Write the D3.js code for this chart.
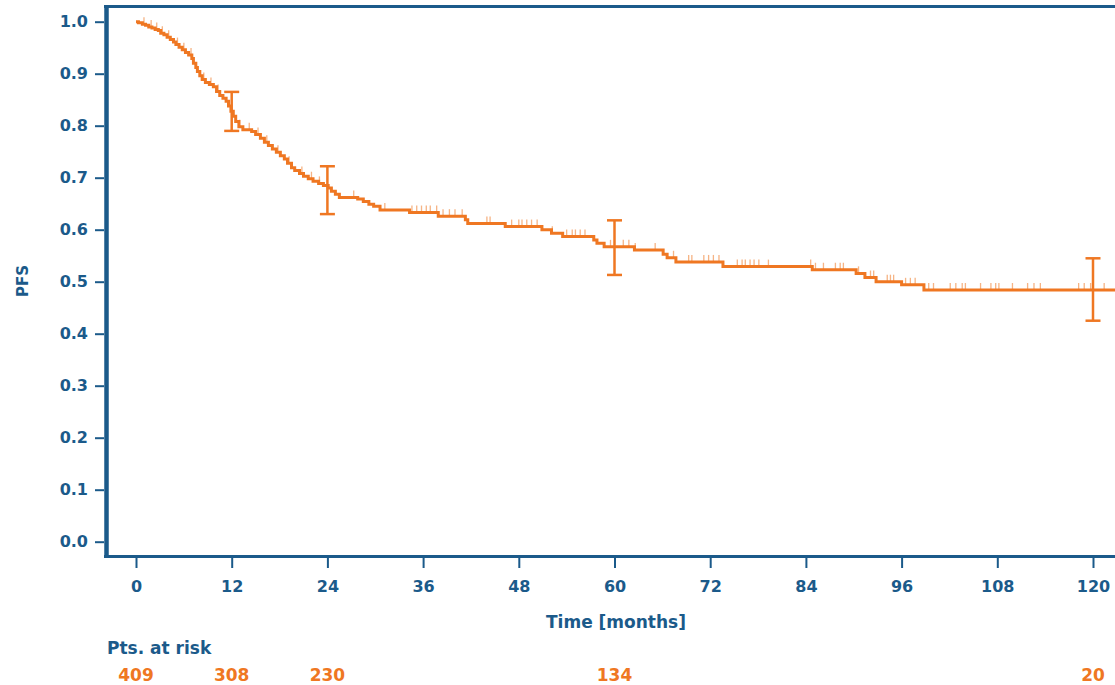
<!DOCTYPE html>
<html lang="en">
<head>
  <meta charset="UTF-8">
  <title>PFS Kaplan-Meier</title>
  <script src="https://d3js.org/d3.v7.min.js"></script>
  <style>
    body { margin: 0; background: #fff; }
    text { font-family: "DejaVu Sans", sans-serif; font-weight: bold; }
  </style>
</head>
<body>
  <svg width="1115" height="685"></svg>

  <script>
    // Step points of the curve (months, survival after the drop)
    const eventTimes = [0.3, 0.8, 1.2, 1.6, 2.0, 2.4, 2.8, 3.1, 3.5, 3.9, 4.3, 4.7, 5.0, 5.4, 5.8, 6.2, 6.6, 7.0,
      7.2, 7.5, 7.7, 8.0, 8.3, 8.7, 9.2, 9.7, 10.1, 10.5, 10.9, 11.3, 11.6, 11.9, 12.2, 12.5, 12.9, 13.4,
      14.5, 15.0, 15.6, 16.1, 16.6, 17.1, 17.6, 18.1, 18.6, 19.0, 19.5, 19.9, 20.5, 21.0, 21.6, 22.2, 22.9,
      23.5, 24.1, 24.5, 25.0, 25.5, 27.8, 28.5, 29.2, 29.8, 30.6, 34.3, 37.9, 41.3, 41.6, 46.3, 50.9, 52.1,
      53.5, 57.4, 57.8, 58.7, 62.5, 66.1, 66.6, 67.7, 73.6, 84.8, 90.3, 91.4, 92.8, 96.0, 98.8];
    const survival = [0.998, 0.995, 0.993, 0.990, 0.988, 0.985, 0.983, 0.978, 0.975, 0.970, 0.966, 0.961, 0.956,
      0.951, 0.946, 0.941, 0.936, 0.929, 0.920, 0.912, 0.904, 0.896, 0.889, 0.883, 0.879, 0.875, 0.866, 0.858,
      0.853, 0.847, 0.838, 0.828, 0.818, 0.808, 0.798, 0.792, 0.789, 0.783, 0.776, 0.768, 0.762, 0.755, 0.749,
      0.742, 0.736, 0.728, 0.719, 0.714, 0.708, 0.703, 0.698, 0.693, 0.689, 0.685, 0.680, 0.674, 0.668, 0.662,
      0.659, 0.654, 0.649, 0.645, 0.638, 0.633, 0.626, 0.619, 0.612, 0.606, 0.600, 0.593, 0.587, 0.580, 0.574,
      0.567, 0.561, 0.553, 0.546, 0.538, 0.529, 0.523, 0.516, 0.508, 0.500, 0.494, 0.484];

    // Censoring marks (months)
    const censorTimes = [1.0, 1.9, 2.6, 3.3, 4.1, 5.2, 6.0, 6.9, 8.5, 9.4, 10.3, 13.0, 14.2, 15.3, 16.4, 17.8,
      19.2, 20.8, 22.0, 23.0, 27.3, 31.2, 34.6, 35.2, 35.8, 36.4, 36.9, 37.7, 38.5, 39.3, 40.0, 40.9, 44.0,
      44.4, 47.1, 48.0, 48.4, 49.0, 49.6, 50.3, 52.2, 54.0, 54.7, 55.1, 55.7, 56.3, 59.5, 61.1, 61.8, 62.6,
      65.1, 67.4, 69.3, 69.7, 71.2, 71.8, 72.4, 73.1, 75.4, 76.0, 76.4, 77.0, 77.5, 78.1, 79.3, 84.6, 85.2,
      86.2, 87.7, 88.3, 88.7, 90.6, 92.1, 92.5, 94.2, 94.6, 95.0, 96.5, 97.1, 97.7, 99.4, 100.0, 102.1,
      102.8, 103.6, 104.0, 105.9, 107.2, 107.8, 108.2, 109.9, 111.8, 112.6, 113.4, 118.2, 118.9, 119.7, 121.4];

    // Confidence intervals
    const ciTimes = [12, 24, 60, 120];
    const ciLower = [0.790, 0.630, 0.513, 0.425];
    const ciUpper = [0.865, 0.722, 0.618, 0.545];

    // Patients at risk
    const riskTimes = [0, 12, 24, 60, 120];
    const riskCounts = [409, 308, 230, 134, 20];

    const xTicks = [0, 12, 24, 36, 48, 60, 72, 84, 96, 108, 120];
    const yTicks = [0, 0.1, 0.2, 0.3, 0.4, 0.5, 0.6, 0.7, 0.8, 0.9, 1.0];

    const blue = "#1b5a8a";
    const orange = "#ef7722";

    const svg = d3.select("svg");
    const x = d3.scaleLinear().domain([0, 120]).range([136, 1093]);
    const y = d3.scaleLinear().domain([0, 1]).range([541.7, 21.7]);

    // Y axis
    const yAxis = svg.append("g")
      .attr("transform", "translate(104,0)")
      .call(d3.axisLeft(y).tickValues(yTicks).tickFormat(d3.format(".1f")).tickSize(9).tickPadding(7));
    yAxis.select(".domain").remove();
    yAxis.selectAll("line").attr("stroke", blue).attr("stroke-width", 2);
    yAxis.selectAll("text").attr("fill", blue).style("font-size", "16px");

    // X axis
    const xAxis = svg.append("g")
      .attr("transform", "translate(0,558)")
      .call(d3.axisBottom(x).tickValues(xTicks).tickSize(10).tickPadding(13));
    xAxis.select(".domain").remove();
    xAxis.selectAll("line").attr("stroke", blue).attr("stroke-width", 2);
    xAxis.selectAll("text").attr("fill", blue).style("font-size", "16px");

    // Plot frame (right side runs off the page)
    svg.append("line").attr("x1", 106.5).attr("x2", 106.5).attr("y1", 5).attr("y2", 558)
      .attr("stroke", blue).attr("stroke-width", 4.5);
    svg.append("line").attr("x1", 104).attr("x2", 1115).attr("y1", 6.5).attr("y2", 6.5)
      .attr("stroke", blue).attr("stroke-width", 3);
    svg.append("line").attr("x1", 104).attr("x2", 1115).attr("y1", 556.5).attr("y2", 556.5)
      .attr("stroke", blue).attr("stroke-width", 3);

    // Axis titles
    svg.append("text")
      .attr("transform", "translate(28,281) rotate(-90)")
      .attr("text-anchor", "middle")
      .attr("fill", blue).style("font-size", "15px")
      .text("PFS");
    svg.append("text")
      .attr("x", 616).attr("y", 628)
      .attr("text-anchor", "middle")
      .attr("fill", blue).style("font-size", "17px")
      .text("Time [months]");

    // Curve
    const pts = [{ t: 0, s: 1 }].concat(eventTimes.map((t, i) => ({ t: t, s: survival[i] })));
    pts.push({ t: 124, s: survival[survival.length - 1] });

    const sAt = t => {
      let s = 1;
      eventTimes.forEach((e, i) => { if (e <= t) s = survival[i]; });
      return s;
    };

    // Censor ticks
    svg.append("g").selectAll("line")
      .data(censorTimes)
      .enter().append("line")
      .attr("x1", d => x(d)).attr("x2", d => x(d))
      .attr("y1", d => y(sAt(d))).attr("y2", d => y(sAt(d)) - 7)
      .attr("stroke", orange).attr("stroke-width", 1.3).attr("opacity", 0.55);

    svg.append("path")
      .datum(pts)
      .attr("fill", "none")
      .attr("stroke", orange)
      .attr("stroke-width", 3)
      .attr("d", d3.line().x(d => x(d.t)).y(d => y(d.s)).curve(d3.curveStepAfter));

    // Error bars
    const ci = svg.append("g").selectAll("g")
      .data(ciTimes.map((t, i) => ({ t: t, lo: ciLower[i], hi: ciUpper[i] })))
      .enter().append("g")
      .attr("stroke", orange).attr("stroke-width", 2.5);
    ci.append("line")
      .attr("x1", d => x(d.t)).attr("x2", d => x(d.t))
      .attr("y1", d => y(d.lo)).attr("y2", d => y(d.hi));
    ci.append("line")
      .attr("x1", d => x(d.t) - 7.5).attr("x2", d => x(d.t) + 7.5)
      .attr("y1", d => y(d.lo)).attr("y2", d => y(d.lo));
    ci.append("line")
      .attr("x1", d => x(d.t) - 7.5).attr("x2", d => x(d.t) + 7.5)
      .attr("y1", d => y(d.hi)).attr("y2", d => y(d.hi));

    // Risk table
    svg.append("text")
      .attr("x", 107).attr("y", 654)
      .attr("fill", blue).style("font-size", "17px")
      .text("Pts. at risk");
    svg.append("g").selectAll("text")
      .data(riskTimes)
      .enter().append("text")
      .attr("x", d => x(d)).attr("y", 681)
      .attr("text-anchor", "middle")
      .attr("fill", orange).style("font-size", "17px")
      .text((d, i) => riskCounts[i]);
  </script>
</body>
</html>
